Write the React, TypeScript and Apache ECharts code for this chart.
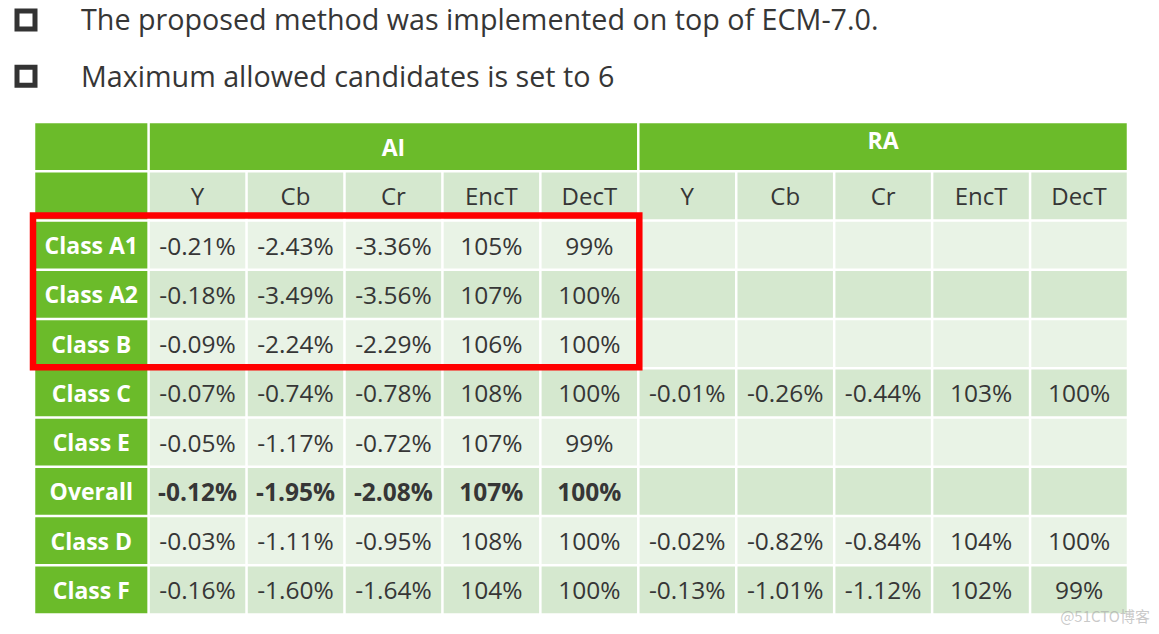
import React, { useEffect, useRef } from "react";
import * as echarts from "echarts";

// ---------- data ----------
const bulletLines = [
  "The proposed method was implemented on top of ECM-7.0.",
  "Maximum allowed candidates is set to 6",
];
const groups = ["AI", "RA"];
const metrics = ["Y", "Cb", "Cr", "EncT", "DecT"];
const rowLabels = ["Class A1", "Class A2", "Class B", "Class C", "Class E", "Overall", "Class D", "Class F"];
const boldRow = "Overall";

const aiY = [-0.21, -0.18, -0.09, -0.07, -0.05, -0.12, -0.03, -0.16];
const aiCb = [-2.43, -3.49, -2.24, -0.74, -1.17, -1.95, -1.11, -1.6];
const aiCr = [-3.36, -3.56, -2.29, -0.78, -0.72, -2.08, -0.95, -1.64];
const aiEncT = [105, 107, 106, 108, 107, 107, 108, 104];
const aiDecT = [99, 100, 100, 100, 99, 100, 100, 100];

const raY = [null, null, null, -0.01, null, null, -0.02, -0.13];
const raCb = [null, null, null, -0.26, null, null, -0.82, -1.01];
const raCr = [null, null, null, -0.44, null, null, -0.84, -1.12];
const raEncT = [null, null, null, 103, null, null, 104, 102];
const raDecT = [null, null, null, 100, null, null, 100, 99];

const highlightRows = ["Class A1", "Class A2", "Class B"];
const highlightGroup = "AI";
const watermark = "@51CTO博客";

// ---------- styling ----------
const GREEN = "#6BBB2A";
const LIGHT = "#E9F3E6";
const MID = "#D5E8CF";
const TEXT = "#363636";
const FONT = "'Open Sans', 'Noto Sans', sans-serif";
const LABEL_UNITS = 1.17;
const GAP = 1.25;

type Cell = {
  value: number[];
  text: string;
  fill: string;
  color: string;
  weight: string;
  size: number;
  dy: number;
  kind: "cell" | "box";
};

function fmtPct(v: number | null, isTime: boolean) {
  if (v === null) return "";
  return isTime ? `${v}%` : `${v.toFixed(2)}%`;
}

function buildCells(): Cell[] {
  const cells: Cell[] = [];
  const groupData: Record<string, (number | null)[][]> = {
    AI: [aiY, aiCb, aiCr, aiEncT, aiDecT],
    RA: [raY, raCb, raCr, raEncT, raDecT],
  };
  // header row 1
  cells.push({ value: [-LABEL_UNITS, 0, 0, 1], text: "", fill: GREEN, color: "#fff", weight: "bold", size: 23, dy: 0, kind: "cell" });
  groups.forEach((g, gi) => {
    cells.push({
      value: [gi * metrics.length, 0, (gi + 1) * metrics.length, 1],
      text: g, fill: GREEN, color: "#fff", weight: "bold", size: 23, dy: gi === 1 ? -7 : 0, kind: "cell",
    });
  });
  // header row 2
  cells.push({ value: [-LABEL_UNITS, 1, 0, 2], text: "", fill: GREEN, color: "#fff", weight: "bold", size: 23, dy: 0, kind: "cell" });
  groups.forEach((g, gi) => {
    metrics.forEach((m, mi) => {
      const x = gi * metrics.length + mi;
      cells.push({ value: [x, 1, x + 1, 2], text: m, fill: MID, color: TEXT, weight: "normal", size: 24, dy: 0, kind: "cell" });
    });
  });
  // data rows
  rowLabels.forEach((lab, ri) => {
    const y = ri + 2;
    const fill = ri % 2 === 0 ? LIGHT : MID;
    const bold = lab === boldRow;
    cells.push({ value: [-LABEL_UNITS, y, 0, y + 1], text: lab, fill: GREEN, color: "#fff", weight: "bold", size: 23, dy: 0, kind: "cell" });
    groups.forEach((g, gi) => {
      metrics.forEach((m, mi) => {
        const x = gi * metrics.length + mi;
        const v = groupData[g][mi][ri];
        cells.push({
          value: [x, y, x + 1, y + 1],
          text: fmtPct(v, mi >= 3),
          fill, color: TEXT, weight: bold ? "bold" : "normal", size: 24.5, dy: 0, kind: "cell",
        });
      });
    });
  });
  // highlight box
  const r0 = rowLabels.indexOf(highlightRows[0]) + 2;
  const r1 = rowLabels.indexOf(highlightRows[highlightRows.length - 1]) + 3;
  const gIdx = groups.indexOf(highlightGroup);
  cells.push({
    value: [-LABEL_UNITS, r0, (gIdx + 1) * metrics.length, r1],
    text: "", fill: "none", color: "#f00", weight: "normal", size: 0, dy: 0, kind: "box",
  });
  return cells;
}

export default function App() {
  const ref = useRef<HTMLDivElement>(null);
  useEffect(() => {
    if (!ref.current) return;
    const chart = echarts.init(ref.current, undefined, { renderer: "svg" });
    const cells = buildCells();
    const nRows = rowLabels.length + 2;
    const nCols = groups.length * metrics.length;

    const graphic: any[] = [];
    bulletLines.forEach((t, i) => {
      graphic.push({
        type: "rect",
        left: 14.5, top: 8.5 + i * 56.3,
        shape: { x: 0, y: 0, width: 18, height: 18 },
        style: { fill: "none", stroke: "#333", lineWidth: 5 },
      });
      graphic.push({
        type: "text",
        left: 81, top: 4 + i * 56.7,
        style: { text: t, fill: "#363636", font: `28.7px ${FONT}` },
      });
    });
    graphic.push({
      type: "text",
      right: 9, top: 608,
      z: 100,
      style: { text: watermark, fill: "rgba(165,165,165,0.6)", font: `15px 'Noto Sans CJK SC', sans-serif` },
    });

    chart.setOption({
      animation: false,
      grid: { left: 34, right: 31, top: 122, bottom: 19.5 },
      xAxis: { type: "value", min: -LABEL_UNITS, max: nCols, show: false },
      yAxis: { type: "value", min: 0, max: nRows, inverse: true, show: false },
      graphic,
      series: [
        {
          type: "custom",
          clip: false,
          encode: { x: [0, 2], y: [1, 3] },
          data: cells.map((c) => ({ value: c.value })),
          renderItem: (params: any, api: any) => {
            const c = cells[params.dataIndex];
            const p0 = api.coord([api.value(0), api.value(1)]);
            const p1 = api.coord([api.value(2), api.value(3)]);
            if (c.kind === "box") {
              return {
                type: "rect",
                shape: { x: p0[0] - 1, y: p0[1] - 5, width: p1[0] - p0[0] + 2, height: p1[1] - p0[1] + 4 },
                style: { fill: "none", stroke: c.color, lineWidth: 6.5 },
                z2: 10,
              };
            }
            const children: any[] = [
              {
                type: "rect",
                shape: { x: p0[0] + GAP, y: p0[1] + GAP, width: p1[0] - p0[0] - 2 * GAP, height: p1[1] - p0[1] - 2 * GAP },
                style: { fill: c.fill },
              },
            ];
            if (c.text) {
              children.push({
                type: "text",
                x: (p0[0] + p1[0]) / 2,
                y: (p0[1] + p1[1]) / 2 + c.dy,
                style: {
                  text: c.text, fill: c.color, fontSize: c.size, fontWeight: c.weight,
                  fontFamily: FONT, align: "center", verticalAlign: "middle",
                },
              });
            }
            return { type: "group", children };
          },
        },
      ],
    });
    return () => chart.dispose();
  }, []);
  return <div ref={ref} style={{ width: 1159, height: 634, position: "absolute", left: 0, top: 0 }} />;
}
